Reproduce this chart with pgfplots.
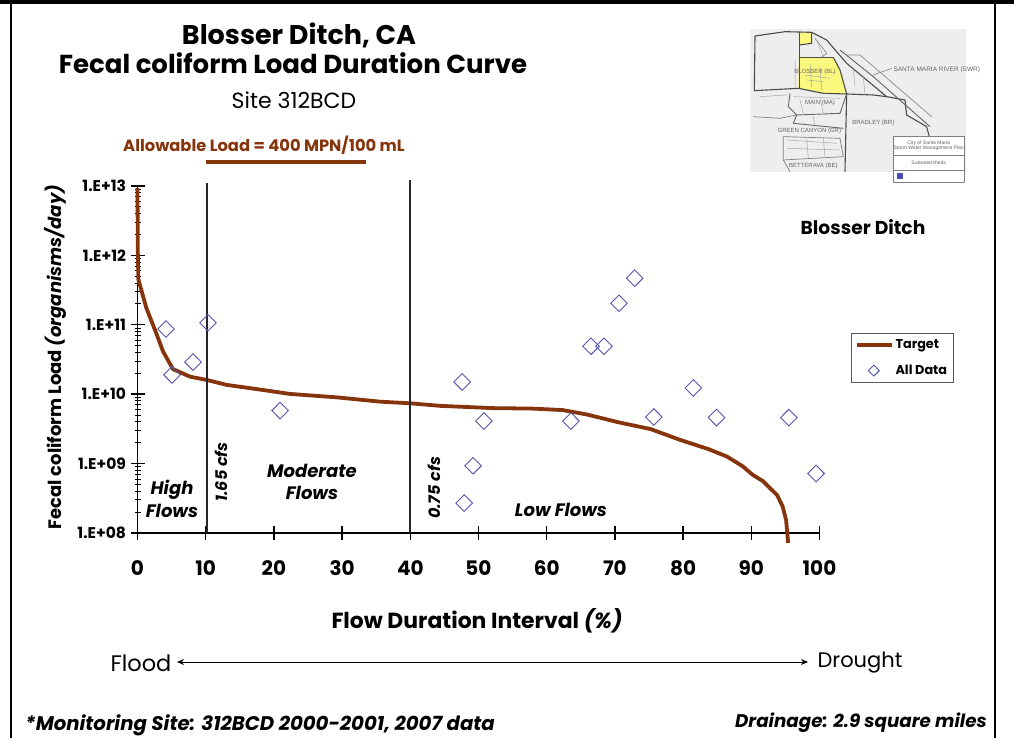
\documentclass[border=0pt]{standalone}
\usepackage{fontspec}
\setmainfont{Poppins}
\newfontfamily\mapfont{Liberation Sans}
\usepackage{pgfplots}
\pgfplotsset{compat=1.18}
\usetikzlibrary{arrows.meta}
\definecolor{loadbrown}{RGB}{133,52,12}
\definecolor{diam}{RGB}{85,85,175}
\definecolor{mapyellow}{RGB}{250,248,125}
\newcommand{\fs}[1]{\fontsize{#1}{#1}\selectfont}
\pgfplotsset{
  linelegend/.style={legend image code/.code={\draw[##1, line width=3.5pt] (0pt,0pt) -- (35pt,0pt);}},
  marklegend/.style={legend image code/.code={\draw[##1, mark size=5.5pt] plot coordinates {(17pt,0pt)};}},
}
\begin{document}
\begin{tikzpicture}
\useasboundingbox (0,0) rectangle (1014pt,-738pt);
\begin{axis}[
    at={(137.5pt,-533pt)}, anchor=south west,
    scale only axis, width=682pt, height=347pt,
    ymode=log,
    xmin=0, xmax=100,
    ymin=1e8, ymax=1e13,
    axis lines=left,
    axis line style={-, line width=1.4pt},
    clip=false,
    xtick={0,10,...,100},
    ytick={1e8,1e9,1e10,1e11,1e12,1e13},
    yticklabels={1.E+08,1.E+09,1.E+10,1.E+11,1.E+12,1.E+13},
    xticklabels={0,10,20,30,40,50,60,70,80,90,100},
    tick align=center,
    major tick length=14pt,
    minor tick length=6pt,
    tick style={black, line width=1.4pt},
    minor tick style={black, line width=0.9pt},
    x tick label style={font=\fs{20}\bfseries, yshift=-17pt},
    y tick label style={font=\fs{15.5}\bfseries, xshift=-1pt},
    legend style={at={(1.0455,0.576)}, anchor=north west, draw=black!65, line width=1pt, fill=white,
      font=\fs{12.8}\bfseries, row sep=11pt, inner sep=4pt, legend cell align=left},
]
\addplot[color=loadbrown, line width=3.8pt, line join=round, linelegend] coordinates {
  (0,9.3e12) (0.05,1.07e12) (0.13,4.5e11) (1.3,1.74e11) (2.57,8.4e10) (3.76,4.1e10)
  (5.2,2.3e10) (7.7,1.79e10) (10.2,1.60e10) (13.1,1.36e10) (18.4,1.15e10) (22.3,1.01e10)
  (29.25,9.0e9) (35.6,7.8e9) (39.95,7.4e9) (44.3,6.8e9) (52.1,6.3e9) (58,6.2e9)
  (62.35,5.9e9) (65.9,5.1e9) (70.7,3.9e9) (75.2,3.15e9) (79.6,2.19e9) (83.7,1.62e9)
  (86.45,1.26e9) (88.7,9.2e8) (90.2,6.9e8) (91.7,5.6e8) (93.8,3.5e8) (94.6,2.4e8)
  (95.1,1.54e8) (95.4,7.2e7)
};
\addplot[only marks, mark=diamond, mark size=8.3pt, mark options={xscale=1.33, draw=diam, line width=0.9pt, fill=none}, marklegend] coordinates {
  (4.18,8.7e10) (5.06,1.9e10) (8.14,2.9e10) (10.34,1.07e11) (20.9,5.8e9)
  (47.6,1.5e10) (49.2,9.3e8) (47.9,2.7e8) (50.8,4.1e9) (63.55,4.1e9)
  (66.5,4.9e10) (68.4,4.9e10) (70.6,2.04e11) (72.9,4.7e11) (75.7,4.7e9)
  (81.5,1.23e10) (84.9,4.6e9) (95.5,4.6e9) (99.5,7.2e8)
};
\addplot[black!85, line width=2pt, forget plot] coordinates {(10.15,1e8) (10.15,1.1e13)};
\addplot[black!85, line width=2pt, forget plot] coordinates {(40,1e8) (40,1.24e13)};
\legend{Target,All Data}
\end{axis}
% page furniture in reference pixels
\begin{scope}[x=1pt,y=-1pt]
\draw[line width=4pt] (0,2) -- (1014,2);
\draw[line width=2.5pt] (11,0) -- (11,738);
\draw[line width=2.5pt] (995,0) -- (995,738);
\node[font=\fs{27}\bfseries] at (299,35) {Blosser Ditch, CA};
\node[font=\fs{26}\bfseries] at (293,63) {Fecal coliform Load Duration Curve};
\node[font=\fs{22}] at (294,100) {Site 312BCD};
\node[font=\fs{16.3}\bfseries, text=loadbrown] at (264,145) {Allowable Load = 400 MPN/100 mL};
\draw[loadbrown, line width=3.5pt] (206,162) -- (366,162);
\node[font=\fs{18.7}\bfseries] at (863,227) {Blosser Ditch};
\node[font=\fs{18}\bfseries, rotate=90] at (55,357) {Fecal coliform Load \textit{(organisms/day)}};
\node[font=\fs{18}\bfseries\itshape, align=center] at (172,499) {High\\[4pt]Flows};
\node[font=\fs{18}\bfseries\itshape, align=center] at (312,482) {Moderate\\[4pt]Flows};
\node[font=\fs{18}\bfseries\itshape] at (561,510) {Low Flows};
\node[font=\fs{16}\bfseries\itshape, rotate=90] at (221,472) {1.65 cfs};
\node[font=\fs{16}\bfseries\itshape, rotate=90] at (434,488) {0.75 cfs};
\node[font=\fs{21.9}\bfseries] at (477,621) {Flow Duration Interval \textit{(\%)}};
\node[font=\fs{22.5}] at (141,663) {Flood};
\node[font=\fs{21}] at (860,663) {Drought};
\draw[{Stealth[length=7pt,width=6pt]}-{Stealth[length=7pt,width=6pt]}, line width=1pt] (177,662) -- (808,662);
\node[font=\fs{19.7}\bfseries\itshape] at (260,725) {*Monitoring Site: 312BCD 2000-2001, 2007 data};
\node[font=\fs{18.3}\bfseries\itshape] at (861,723) {Drainage: 2.9 square miles};
\end{scope}
% location map, coordinates in 3x crop pixels
\begin{scope}[shift={(740pt,0pt)}, x=0.3333pt, y=-0.3333pt, line join=round]
\fill[gray!13] (30,88) rectangle (678,515);
\fill[mapyellow] (178,97) -- (215,97) -- (215,130) -- (178,135) -- (178,170) -- (215,172) -- (280,172) -- (300,210) -- (320,282) -- (250,280) -- (175,265) -- cycle;
\draw[black!70, line width=1.1pt] (45,108) -- (135,95) -- (215,97) -- (260,120) -- (320,190) -- (380,240) -- (440,290) -- (495,300) -- (500,345) -- (560,380) -- (568,410);
\draw[black!70, line width=1.1pt] (45,108) -- (43,272) -- (175,265) -- (250,280) -- (320,282) -- (400,285) -- (440,290);
\draw[black!70, line width=1.1pt] (178,97) -- (178,265);
\draw[black!70, line width=1.1pt] (215,97) -- (215,130) -- (178,135);
\draw[black!70, line width=1.1pt] (280,172) -- (300,210) -- (320,282) -- (315,515);
\draw[black!70, line width=1pt] (180,172) -- (280,172);
\draw[black!60, line width=0.9pt] (300,150) -- (400,230) -- (570,380);
\draw[black!45, line width=0.7pt] (320,165) -- (360,165) -- (575,350);
\draw[black!60, line width=0.9pt] (150,280) -- (145,320) -- (170,345) -- (300,340) -- (320,282);
\draw[black!60, line width=0.9pt] (170,345) -- (160,370) -- (310,385);
\draw[black!50, line width=0.7pt] (40,350) -- (120,355) -- (170,345);
\draw[black!50, line width=0.7pt] (130,410) -- (300,415) -- (310,470) -- (130,480) -- cycle;
\draw[black!50, line width=0.7pt] (130,480) -- (150,515);
\draw[black!45, line width=0.7pt] (225,115) -- (260,160) -- (240,175);
\draw[black!45, line width=0.7pt] (400,225) -- (455,205);
% street texture
\draw[black!35, line width=0.5pt] (195,225) -- (270,235) (200,240) -- (250,245) (240,200) -- (245,270) (210,190) -- (215,260)
  (160,290) -- (300,295) (180,300) -- (190,340) (240,295) -- (250,340) (60,290) -- (140,285)
  (140,420) -- (290,430) (140,445) -- (300,450) (200,415) -- (205,475) (250,415) -- (255,470) (220,350) -- (225,380)
  (340,205) -- (345,260) (370,230) -- (375,285) (230,120) -- (250,170) (165,180) -- (165,260);
\fill[white] (460,408) rectangle (672,548);
\draw[black!50, line width=0.6pt] (460,408) rectangle (672,548);
\draw[black!50, line width=0.5pt] (460,465) -- (672,465) (460,512) -- (672,512);
\fill[blue!40!gray] (472,520) rectangle (488,536);
\begin{scope}[every node/.style={text=black!60, inner sep=0pt}]
\node[font=\mapfont\fs{6.5}, anchor=west] at (460,208) {SANTA MARIA RIVER (SWR)};
\node[font=\mapfont\fs{6}] at (225,215) {BLOSSER (BL)};
\node[font=\mapfont\fs{6}] at (240,310) {MAIN (MA)};
\node[font=\mapfont\fs{6}] at (400,368) {BRADLEY (BR)};
\node[font=\mapfont\fs{6}] at (208,392) {GREEN CANYON (GR)};
\node[font=\mapfont\fs{6}] at (220,498) {BETTERAVA (BE)};
\node[font=\mapfont\fs{5}, align=center] at (566,436) {City of Santa Maria\\Storm Water Management Plan};
\node[font=\mapfont\fs{5}] at (566,488) {Subwatersheds};
\end{scope}
\end{scope}
\end{tikzpicture}
\end{document}
